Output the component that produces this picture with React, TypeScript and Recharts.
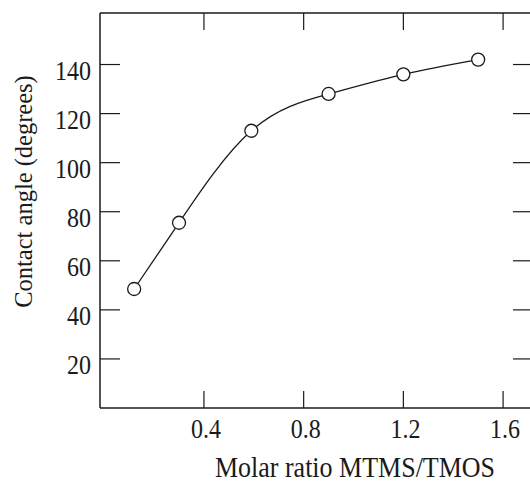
import { LineChart, Line, XAxis, YAxis } from 'recharts'

// Contact angle vs MTMS/TMOS molar ratio
const molarRatio = [0.12, 0.3, 0.59, 0.9, 1.2, 1.5]
const contactAngle = [48.5, 75.5, 113, 128, 136, 142]

const xTicks = [0.4, 0.8, 1.2, 1.6]
const yTicks = [20, 40, 60, 80, 100, 120, 140]

const data = molarRatio.map((r, i) => ({ ratio: r, angle: contactAngle[i] }))

const INK = '#1a1a1a'
const FONT = '"Liberation Serif", "Times New Roman", serif'

// ticks point into the plot box; labels only on bottom and left
function BottomTick({ x, y, payload }: any) {
  return (
    <g>
      <line x1={x} x2={x} y1={y} y2={y - 17} stroke={INK} strokeWidth={1.2} />
      <text
        transform={`translate(${x + 2},${y + 30}) scale(1,1.15)`}
        textAnchor="middle"
        fontFamily={FONT}
        fontSize={24}
        fill={INK}
      >
        {Number(payload.value).toFixed(1)}
      </text>
    </g>
  )
}

function TopTick({ x, y }: any) {
  return <line x1={x} x2={x} y1={y} y2={y + 17} stroke={INK} strokeWidth={1.2} />
}

function LeftTick({ x, y, payload }: any) {
  return (
    <g>
      <line x1={x} x2={x + 20} y1={y} y2={y} stroke={INK} strokeWidth={1.2} />
      <text
        transform={`translate(${x - 9},${y + 15}) scale(1,1.15)`}
        textAnchor="end"
        fontFamily={FONT}
        fontSize={24}
        fill={INK}
      >
        {payload.value}
      </text>
    </g>
  )
}

function RightTick({ x, y }: any) {
  return <line x1={x} x2={x - 20} y1={y} y2={y} stroke={INK} strokeWidth={1.2} />
}

function YTitle({ viewBox }: any) {
  const cy = viewBox.y + viewBox.height / 2 - 19
  return (
    <text
      transform={`translate(32,${cy}) rotate(-90) scale(1,1.05)`}
      textAnchor="middle"
      fontFamily={FONT}
      fontSize={24.5}
      fill={INK}
    >
      Contact angle (degrees)
    </text>
  )
}

function XTitle({ viewBox }: any) {
  return (
    <text
      transform={`translate(${viewBox.x + 255},477) scale(1,1.12)`}
      textAnchor="middle"
      fontFamily={FONT}
      fontSize={26}
      fill={INK}
    >
      Molar ratio MTMS/TMOS
    </text>
  )
}

export default function App() {
  const axisLine = { stroke: INK, strokeWidth: 1.5 }
  return (
    <div style={{ position: 'absolute', left: 0, top: 0, width: 530, height: 483, overflow: 'hidden', background: '#fff' }}>
      <LineChart width={545} height={483} data={data} margin={{ top: 12, right: 11, bottom: 45, left: 0 }}>
        <XAxis
          dataKey="ratio"
          type="number"
          domain={[-0.017, 1.72]}
          allowDataOverflow
          ticks={xTicks}
          interval={0}
          height={30}
          tickSize={0}
          tickMargin={0}
          tickLine={false}
          axisLine={axisLine}
          tick={BottomTick}
          label={XTitle}
        />
        <XAxis
          xAxisId="top"
          orientation="top"
          dataKey="ratio"
          type="number"
          domain={[-0.017, 1.72]}
          allowDataOverflow
          ticks={xTicks}
          interval={0}
          height={1}
          tickSize={0}
          tickMargin={0}
          tickLine={false}
          axisLine={axisLine}
          tick={TopTick}
        />
        <YAxis
          type="number"
          domain={[0, 161]}
          allowDataOverflow
          ticks={yTicks}
          interval={0}
          width={100}
          tickSize={0}
          tickMargin={0}
          tickLine={false}
          axisLine={axisLine}
          tick={LeftTick}
          label={YTitle}
        />
        <YAxis
          yAxisId="right"
          orientation="right"
          type="number"
          domain={[0, 161]}
          allowDataOverflow
          ticks={yTicks}
          interval={0}
          width={1}
          tickSize={0}
          tickMargin={0}
          tickLine={false}
          axisLine={axisLine}
          tick={RightTick}
        />
        <Line
          type="natural"
          dataKey="angle"
          stroke={INK}
          strokeWidth={1.3}
          dot={{ r: 6.5, fill: '#fff', stroke: INK, strokeWidth: 1.3 }}
          activeDot={false}
          isAnimationActive={false}
        />
      </LineChart>
    </div>
  )
}
